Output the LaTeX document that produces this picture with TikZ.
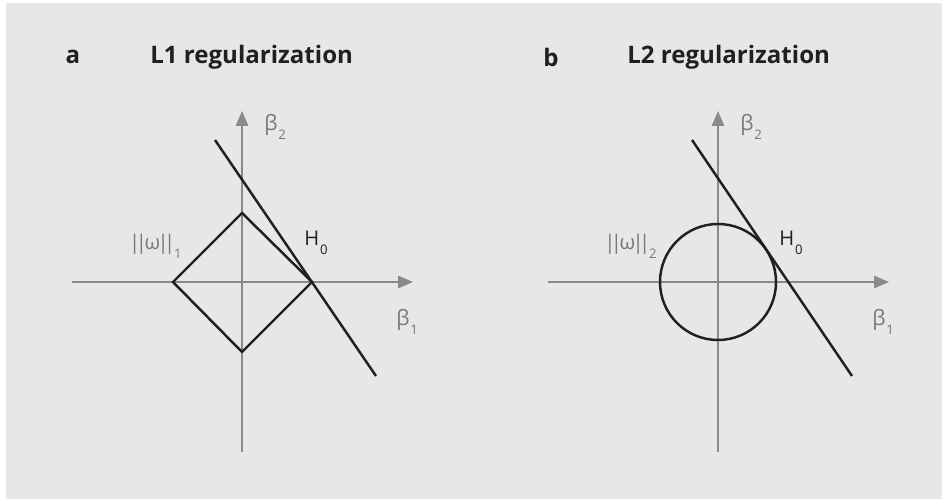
\documentclass[tikz,border=0pt]{standalone}
\usepackage{fontspec}
\setmainfont{Open Sans}
\usetikzlibrary{arrows.meta}

\definecolor{bggray}{HTML}{E6E7E6}
\definecolor{axgray}{HTML}{898A8C}
\definecolor{lblgray}{HTML}{77787B}
\definecolor{inkblack}{HTML}{231F20}

% low, small index as in the printed figure
\newcommand{\lowsub}[1]{\kern0.5pt\raisebox{-0.4em}{\fontsize{7.5}{8}\selectfont #1}}
\newcommand{\nbar}{|\kern-2.6pt|}
\newcommand{\wnorm}{\kern-1.2pt\nbar\kern-1.4pt ω\kern-1.4pt\nbar\kern-1.2pt}

\tikzset{
  axis/.style={draw=axgray,line width=1.1pt},
  curve/.style={draw=inkblack,line width=1.4pt},
  lbl/.style={text=lblgray,font=\fontsize{12}{14}\selectfont,inner sep=0pt},
  nlbl/.style={lbl,font=\fontsize{11.5}{14}\selectfont},
  hlbl/.style={text=inkblack,font=\fontsize{11.5}{14}\selectfont,inner sep=0pt},
  title/.style={text=inkblack,font=\fontsize{13.7}{16}\selectfont\bfseries,inner sep=0pt}
}

\begin{document}
\begin{tikzpicture}[x=0.02cm,y=-0.02cm,>={Triangle[length=8.5pt,width=7pt]}]
  \useasboundingbox (0,0) rectangle (942,499);
  \fill[bggray] (6,3) rectangle (942,499);

  % titles
  \node[title] (taa) at (73,57) {a};
  \node[title,anchor=west] (tal) at (150,57) {L1 regularization};
  \node[title] (tba) at (551,57) {b};
  \node[title,anchor=west] (tbl) at (627,57) {L2 regularization};

  % axes of both panels
  \foreach \p/\ox in {a/242,b/718}{
    \coordinate (\p xl) at (\ox-170,282);
    \coordinate (\p xr) at (\ox+171,282);
    \coordinate (\p yb) at (\ox,452);
    \coordinate (\p yt) at (\ox,111);
    \draw[axis,->] (\p xl) -- (\p xr);
    \draw[axis,->] (\p yb) -- (\p yt);
    \node[lbl,anchor=base west] (\p bone) at (\ox+154,326) {β\lowsub{1}};
    \node[lbl,anchor=base west] (\p btwo) at (\ox+22,131) {β\lowsub{2}};
  }

  % a: L1 ball and H0
  \coordinate (oa) at (242,282);
  \draw[curve] (173,282) -- (242,213) -- (312,282) -- (242,352) -- cycle;
  \coordinate (ha0) at (215,140);
  \coordinate (ha1) at (376,376);
  \draw[curve] (ha0) -- (ha1);
  \node[nlbl,anchor=base west] (na) at (131,250) {\wnorm\lowsub{1}};
  \node[hlbl,anchor=base west] (hla) at (304,246) {H\lowsub{0}};

  % b: L2 ball and H0
  \coordinate (ob) at (718,282);
  \draw[curve] (ob) circle (58);
  \coordinate (hb0) at (692,140);
  \coordinate (hb1) at (852,376);
  \draw[curve] (hb0) -- (hb1);
  \node[nlbl,anchor=base west] (nb) at (606,250) {\wnorm\lowsub{2}};
  \node[hlbl,anchor=base west] (hlb) at (779,246) {H\lowsub{0}};
\end{tikzpicture}
\end{document}
